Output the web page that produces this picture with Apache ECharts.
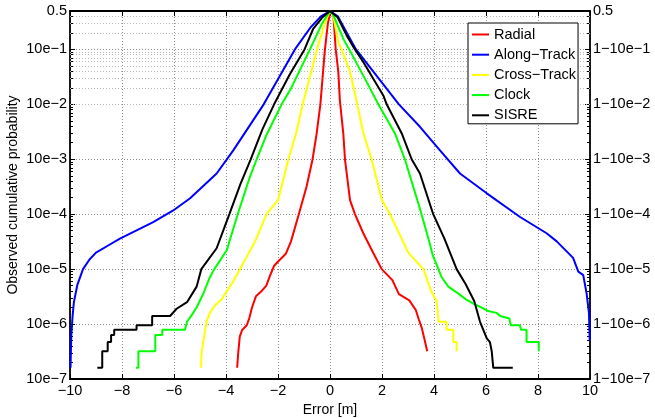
<!DOCTYPE html>
<html>
<head>
<meta charset="utf-8">
<title>Observed cumulative probability</title>
<script src="https://cdn.jsdelivr.net/npm/echarts@6/dist/echarts.min.js"></script>
<style>
  html, body { margin: 0; padding: 0; background: #fff; }
  #main { width: 655px; height: 418px; }
</style>
</head>
<body>
<div id="main"></div>
<script type="text/javascript">
// [error (m), probability]; left branch P(X<x), right branch P(X>x)
var radial = [
  [-3.57, 1.6e-7], [-3.53, 3.0e-7], [-3.47, 5.9e-7], [-3.38, 7.8e-7], [-3.2, 9.5e-7], [-3.1, 1.3e-6],
  [-3.0, 2.0e-6], [-2.85, 3.2e-6], [-2.65, 3.9e-6], [-2.45, 5.0e-6], [-2.3, 7.8e-6], [-2.15, 1.15e-5],
  [-1.95, 1.45e-5], [-1.7, 1.9e-5], [-1.5, 3.2e-5], [-1.2, 1.0e-4], [-0.9, 3.2e-4], [-0.67, 1.0e-3],
  [-0.52, 2.8e-3], [-0.37, 1.0e-2], [-0.2, 0.095], [-0.08, 0.3], [0.02, 0.5], [0.13, 0.42],
  [0.22, 0.1], [0.32, 0.039], [0.38, 0.0117], [0.51, 3.0e-3], [0.58, 9.5e-4], [0.77, 1.8e-4],
  [0.96, 1.0e-4], [1.28, 4.5e-5], [1.67, 1.95e-5], [1.99, 1.0e-5], [2.4, 6.3e-6], [2.65, 3.5e-6],
  [3.05, 2.7e-6], [3.3, 1.8e-6], [3.42, 1.2e-6], [3.53, 8.5e-7], [3.65, 4.9e-7], [3.74, 3.2e-7]
];
var alongTrack = [
  [-9.98, 1.6e-7], [-9.95, 6.3e-7], [-9.9, 1.4e-6], [-9.85, 2.5e-6], [-9.72, 5.1e-6], [-9.5, 1.0e-5],
  [-9.25, 1.5e-5], [-9.0, 2.0e-5], [-8.5, 2.75e-5], [-8.08, 3.6e-5], [-6.8, 7.2e-5], [-6.03, 1.17e-4],
  [-5.38, 1.95e-4], [-4.36, 5.5e-4], [-3.72, 1.45e-3], [-2.55, 1.0e-2], [-1.35, 0.1], [-0.75, 0.25],
  [-0.35, 0.4], [0, 0.5], [0.3, 0.4], [0.65, 0.2], [1.0, 0.1], [2.65, 1.0e-2], [3.46, 3.9e-3],
  [4.23, 1.45e-3], [5.0, 5.5e-4], [6.03, 2.4e-4], [7.31, 8.9e-5], [8.33, 4.5e-5], [8.72, 3.2e-5],
  [9.35, 1.6e-5], [9.55, 9.0e-6], [9.74, 7.8e-6], [9.87, 3.6e-6], [9.96, 1.6e-6], [9.99, 5.0e-7]
];
var crossTrack = [
  [-4.96, 1.6e-7], [-4.94, 3.0e-7], [-4.87, 4.9e-7], [-4.75, 1.1e-6], [-4.62, 1.6e-6], [-4.42, 2.2e-6],
  [-4.15, 2.9e-6], [-3.8, 5.2e-6], [-3.46, 1.0e-5], [-2.88, 3.2e-5], [-2.44, 1.0e-4], [-2.0, 1.8e-4],
  [-1.6, 1.0e-3], [-1.3, 3.0e-3], [-1.05, 1.0e-2], [-0.5, 0.1], [-0.2, 0.3], [0, 0.5], [0.12, 0.42],
  [0.32, 0.135], [0.45, 0.1], [0.77, 0.039], [1.05, 1.0e-2], [1.28, 3.0e-3], [1.6, 1.0e-3],
  [2.0, 1.8e-4], [2.31, 1.0e-4], [3.01, 2.0e-5], [3.59, 1.0e-5], [3.9, 3.9e-6], [4.1, 2.6e-6],
  [4.18, 1.1e-6], [4.48, 1.1e-6], [4.48, 7.9e-7], [4.74, 7.9e-7], [4.74, 4.7e-7], [4.87, 4.7e-7],
  [4.87, 3.2e-7]
];
var clock = [
  [-7.46, 1.6e-7], [-7.37, 1.6e-7], [-7.37, 3.2e-7], [-6.72, 3.2e-7], [-6.72, 6.3e-7], [-6.45, 6.3e-7],
  [-6.45, 7.9e-7], [-5.58, 7.9e-7], [-5.5, 1.1e-6], [-5.3, 1.5e-6], [-5.13, 2.0e-6], [-4.87, 3.6e-6],
  [-4.64, 6.8e-6], [-4.45, 1.0e-5], [-3.97, 2.2e-5], [-3.55, 1.0e-4], [-3.08, 4.8e-4], [-2.82, 1.0e-3],
  [-2.44, 2.8e-3], [-1.86, 1.0e-2], [-1.5, 0.0195], [-0.77, 0.1], [-0.3, 0.3], [0, 0.5], [0.15, 0.4],
  [0.51, 0.157], [0.74, 0.1], [1.54, 0.0195], [1.86, 1.0e-2], [2.5, 2.95e-3], [2.88, 1.0e-3],
  [3.46, 1.26e-4], [3.8, 3.4e-5], [3.95, 1.8e-5], [4.17, 1.0e-5], [4.29, 7.2e-6], [4.55, 4.8e-6],
  [4.9, 3.7e-6], [5.26, 2.75e-6], [5.64, 2.2e-6], [5.83, 2.0e-6], [6.05, 1.75e-6], [6.4, 1.6e-6],
  [6.55, 1.4e-6], [6.9, 1.26e-6], [6.95, 9.5e-7], [7.3, 9.5e-7], [7.35, 7.9e-7], [7.56, 7.9e-7],
  [7.56, 4.7e-7], [8.03, 4.7e-7], [8.03, 3.2e-7]
];
var sisre = [
  [-8.95, 1.6e-7], [-8.76, 1.6e-7], [-8.76, 3.2e-7], [-8.55, 3.2e-7], [-8.55, 4.7e-7], [-8.42, 4.7e-7],
  [-8.42, 6.3e-7], [-8.3, 6.3e-7], [-8.3, 7.9e-7], [-7.44, 7.9e-7], [-7.44, 9.5e-7], [-6.84, 9.5e-7],
  [-6.84, 1.4e-6], [-6.15, 1.4e-6], [-5.9, 1.9e-6], [-5.5, 2.5e-6], [-5.13, 4.8e-6], [-4.95, 1.0e-5],
  [-4.36, 2.4e-5], [-3.87, 1.0e-4], [-3.45, 3.5e-4], [-3.05, 1.0e-3], [-2.6, 3.5e-3], [-2.15, 1.0e-2],
  [-1.55, 0.035], [-0.98, 0.1], [-0.64, 0.24], [-0.3, 0.38], [0, 0.5], [0.3, 0.38], [0.64, 0.18],
  [0.96, 0.1], [1.28, 0.059], [2.05, 0.0145], [2.18, 1.0e-2], [2.76, 2.95e-3], [3.14, 1.0e-3],
  [3.46, 5.5e-4], [3.97, 1.0e-4], [4.4, 3.6e-5], [4.87, 1.0e-5], [5.22, 5.3e-6], [5.55, 2.6e-6],
  [5.77, 1.1e-6], [6.03, 5.5e-7], [6.15, 4.7e-7], [6.22, 3.2e-7], [6.28, 3.2e-7], [6.28, 1.6e-7],
  [7.03, 1.6e-7]
];

var seriesNames = ['Radial', 'Along\u2212Track', 'Cross\u2212Track', 'Clock', 'SISRE'];
var seriesColors = ['#ff0000', '#0000ff', '#ffff00', '#00ff00', '#000000'];
var seriesData = [radial, alongTrack, crossTrack, clock, sisre];

var yMajorTicks = [1e-7, 1e-6, 1e-5, 1e-4, 1e-3, 1e-2, 1e-1, 0.5];
var yLeftLabels = ['10e\u22127', '10e\u22126', '10e\u22125', '10e\u22124', '10e\u22123', '10e\u22122', '10e\u22121', '0.5'];
var yRightLabels = ['1\u221210e\u22127', '1\u221210e\u22126', '1\u221210e\u22125', '1\u221210e\u22124',
  '1\u221210e\u22123', '1\u221210e\u22122', '1\u221210e\u22121', '0.5'];
var minorMantissa = [2, 3, 4, 5, 6, 7, 8, 9];

// minor log ticks 2..9 x 10^k, below the 0.5 top
var yMinorTicks = [];
for (var d = 0; d < 7; d++) {
  for (var m = 0; m < minorMantissa.length; m++) {
    var v = minorMantissa[m] * yMajorTicks[d];
    if (v < 0.5) yMinorTicks.push(v);
  }
}

function majorIndex(v) {
  for (var i = 0; i < yMajorTicks.length; i++) {
    if (Math.abs(Math.log10(v) - Math.log10(yMajorTicks[i])) < 0.01) return i;
  }
  return -1;
}

var FONT = '"Liberation Sans", Arial, Helvetica, sans-serif';
var axisLineStyle = { color: '#000', width: 1.8 };

function logAxis(pos, labels, minor) {
  return {
    type: 'log', logBase: 10, min: 1e-7, max: 0.5, position: pos,
    axisLine: { show: !minor, onZero: false, lineStyle: axisLineStyle },
    axisTick: {
      show: true, inside: true, length: minor ? 3 : 5,
      customValues: minor ? yMinorTicks : yMajorTicks,
      lineStyle: { color: '#000', width: 1 }
    },
    axisLabel: {
      show: !minor, customValues: yMajorTicks, margin: 3,
      color: '#000', fontSize: 14.5, fontFamily: FONT,
      formatter: function (v) { var i = majorIndex(v); return i < 0 ? '' : labels[i]; }
    },
    minorTick: { show: false },
    splitLine: { show: false }
  };
}

var yLeft = logAxis('left', yLeftLabels, false);
yLeft.splitLine = { show: true, lineStyle: { type: [1, 2], color: '#8c8c8c', width: 1 } };
yLeft.name = 'Observed cumulative probability';
yLeft.nameLocation = 'middle';
yLeft.nameGap = 50;
yLeft.nameMoveOverlap = false;
yLeft.nameTextStyle = { color: '#000', fontSize: 14, fontFamily: FONT };

var series = [{
  type: 'line', data: [], silent: true,
  markLine: {
    silent: true, symbol: 'none', z: 1, animation: false,
    label: { show: false },
    lineStyle: { type: [1, 2], color: '#b8b8b8', width: 1 },
    data: yMinorTicks.map(function (v) { return { yAxis: v }; })
  }
}];
for (var s = 0; s < seriesData.length; s++) {
  series.push({
    name: seriesNames[s], type: 'line', data: seriesData[s],
    symbol: 'none', showSymbol: false,
    lineStyle: { color: seriesColors[s], width: 2 },
    itemStyle: { color: seriesColors[s] }
  });
}

var myChart = echarts.init(document.getElementById('main'));
var option = {
  animation: false,
  backgroundColor: '#fff',
  grid: { left: 70, right: 65, top: 11, bottom: 39, outerBoundsMode: 'none' },
  legend: {
    data: seriesNames, orient: 'vertical', left: 468, top: 23,
    icon: 'rect', itemWidth: 17, itemHeight: 2, itemGap: 5.2, padding: [4, 2, 1, 4],
    backgroundColor: '#fff', borderColor: '#000', borderWidth: 1, borderRadius: 0,
    textStyle: { color: '#000', fontSize: 14.5, lineHeight: 14, fontFamily: FONT }
  },
  xAxis: [{
    type: 'value', min: -10, max: 10, interval: 2, position: 'bottom',
    axisLine: { onZero: false, lineStyle: axisLineStyle },
    axisTick: { inside: true, length: 5, lineStyle: { color: '#000' } },
    axisLabel: {
      color: '#000', fontSize: 14.5, fontFamily: FONT, margin: 4,
      formatter: function (v) { return v < 0 ? '\u2212' + Math.abs(v) : String(v); }
    },
    splitLine: { show: true, lineStyle: { type: [1, 2], color: '#8c8c8c', width: 1 } },
    name: 'Error [m]', nameLocation: 'middle', nameGap: 21,
    nameTextStyle: { color: '#000', fontSize: 14, fontFamily: FONT }
  }, {
    type: 'value', min: -10, max: 10, interval: 2, position: 'top',
    axisLine: { onZero: false, lineStyle: axisLineStyle },
    axisTick: { inside: true, length: 5, lineStyle: { color: '#000' } },
    axisLabel: { show: false },
    splitLine: { show: false }
  }],
  yAxis: [
    yLeft,
    logAxis('right', yRightLabels, false),
    logAxis('left', yLeftLabels, true),
    logAxis('right', yRightLabels, true)
  ],
  series: series
};
myChart.setOption(option);
</script>
</body>
</html>
